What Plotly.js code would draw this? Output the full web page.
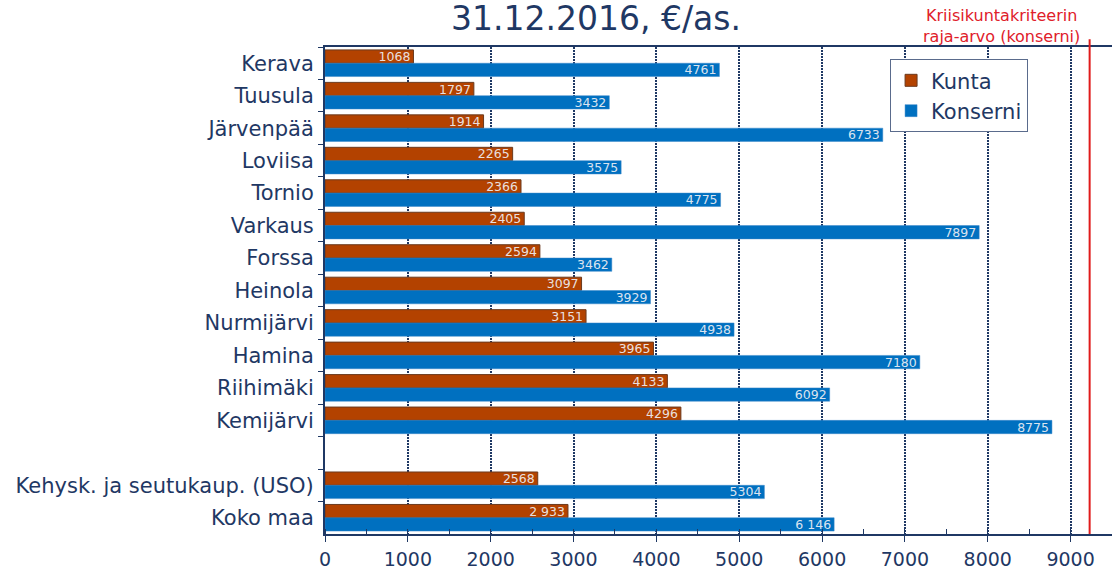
<!DOCTYPE html>
<html>
<head>
<meta charset="utf-8">
<script src="https://cdn.plot.ly/plotly-3.0.1.min.js"></script>
<style>html,body{margin:0;padding:0;background:#fff;}#chart{width:1112px;height:571px;}</style>
</head>
<body>
<div id="chart"></div>
<script>
const categories = ["Kerava","Tuusula","Järvenpää","Loviisa","Tornio","Varkaus","Forssa","Heinola","Nurmijärvi","Hamina","Riihimäki","Kemijärvi"," ","Kehysk. ja seutukaup. (USO)","Koko maa"];
const kunta =    [1068,1797,1914,2265,2366,2405,2594,3097,3151,3965,4133,4296,null,2568,2933];
const konserni = [4761,3432,6733,3575,4775,7897,3462,3929,4938,7180,6092,8775,null,5304,6146];
const kuntaLabels =    ["1068","1797","1914","2265","2366","2405","2594","3097","3151","3965","4133","4296","","2568","2 933"];
const konserniLabels = ["4761","3432","6733","3575","4775","7897","3462","3929","4938","7180","6092","8775","","5304","6 146"];
const threshold = 9230;
const xTicks = [0,1000,2000,3000,4000,5000,6000,7000,8000,9000];

const navy = "#1F3864";
const font = "DejaVu Sans, Verdana, sans-serif";

const common = {
  type: "bar", orientation: "h", y: categories,
  textposition: "inside", insidetextanchor: "end", constraintext: "none",
  insidetextfont: {family: font, size: 12.5, color: "rgba(240,240,245,0.92)"},
  hoverinfo: "x+y", cliponaxis: false
};
const traces = [
  Object.assign({}, common, {name: "Kunta", x: kunta, text: kuntaLabels,
    marker: {color: "#B34200", line: {color: "#6B3A1E", width: 1}}}),
  Object.assign({}, common, {name: "Konserni", x: konserni, text: konserniLabels,
    marker: {color: "#0070C0", line: {color: "#3A86C8", width: 0.5}}})
];

const layout = {
  width: 1112, height: 571,
  margin: {l: 325, r: 0, t: 47, b: 37, pad: 0},
  paper_bgcolor: "#fff", plot_bgcolor: "#fff",
  font: {family: font, color: navy},
  barmode: "group", bargap: 0.18, bargroupgap: 0,
  showlegend: true,
  title: {text: "31.12.2016, €/as.", font: {family: font, size: 33, color: navy},
          xref: "container", x: 0.536, xanchor: "center", yref: "container", y: 0.968, yanchor: "middle"},
  xaxis: {
    range: [0, 9500], tickvals: xTicks, ticktext: xTicks.map(String),
    showgrid: true, gridcolor: navy, griddash: "2px,1px", gridwidth: 2,
    showline: true, linecolor: navy, linewidth: 2, mirror: true,
    ticks: "outside", ticklen: 6, tickcolor: navy, tickwidth: 1,
    minor: {dtick: 500, ticks: "inside", ticklen: 5, tickcolor: navy, showgrid: false},
    tickfont: {family: font, size: 19, color: navy}, ticklabelstandoff: 1,
    zeroline: false, fixedrange: true
  },
  yaxis: {
    type: "category", categoryorder: "array", categoryarray: categories,
    autorange: "reversed", showgrid: false,
    showline: true, linecolor: navy, linewidth: 2,
    ticks: "outside", tickson: "boundaries", ticklen: 5, tickcolor: navy,
    tickfont: {family: font, size: 21, color: navy}, ticklabelstandoff: 5,
    fixedrange: true
  },
  legend: {x: 0.718, y: 0.975, xanchor: "left", yanchor: "top", traceorder: "normal",
           bgcolor: "#fff", bordercolor: "#5A6B8C", borderwidth: 1,
           font: {family: font, size: 21, color: navy}, itemwidth: 30},
  shapes: [{type: "line", xref: "x", yref: "paper", x0: threshold, x1: threshold, y0: 0, y1: 1.016,
            line: {color: "#E01B1B", width: 2}}],
  annotations: [{xref: "paper", yref: "paper", x: 0.86, y: 1.043, xanchor: "center", yanchor: "middle",
                 text: "Kriisikuntakriteerin<br>raja-arvo (konserni)", showarrow: false, align: "center",
                 font: {family: font, size: 16, color: "#E0202A"}}]
};
Plotly.newPlot("chart", traces, layout, {displayModeBar: false, staticPlot: true});
</script>
</body>
</html>
